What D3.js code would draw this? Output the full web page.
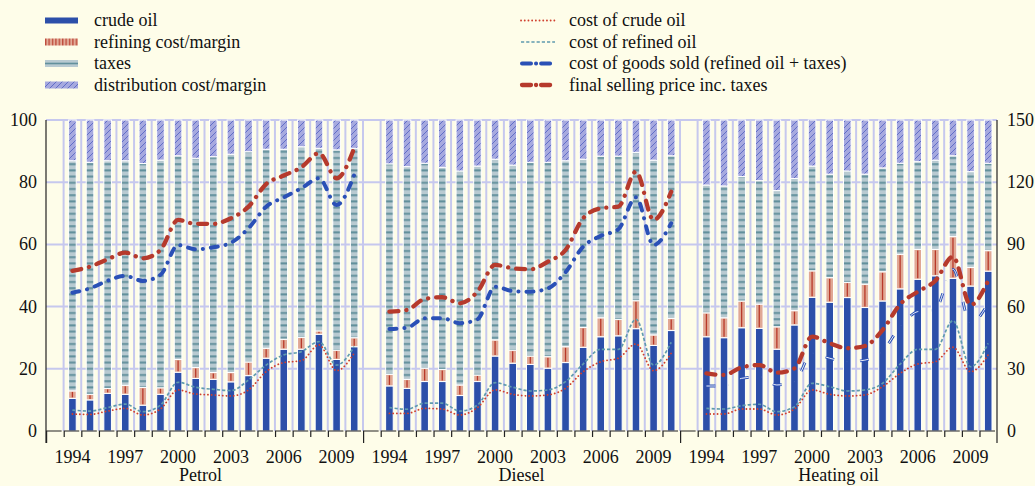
<!DOCTYPE html>
<html><head><meta charset="utf-8">
<script src="https://cdn.jsdelivr.net/npm/d3@7"></script>
<style>
body{margin:0;background:#fefde9;}
svg{display:block;}
text{font-family:"Liberation Serif","Times New Roman","DejaVu Serif",serif;}
</style>
</head><body>
<svg id="c" width="1035" height="486"></svg>
<script>
// ---------------- DATA ----------------
const years = [1994,1995,1996,1997,1998,1999,2000,2001,2002,2003,2004,2005,2006,2007,2008,2009,2010];
const yearLabels = [1994,1997,2000,2003,2006,2009];
const panels = ["Petrol","Diesel","Heating oil"];
const leftTicks = [0,20,40,60,80,100];
const rightTicks = [0,30,60,90,120,150];

// shares (% of final price) — stacked bars, left axis
const petrolCrude    = [10.5,10.0,12.1,11.8,8.3,11.8,18.9,16.9,16.6,15.8,17.8,23.4,26.3,26.3,31.1,23.0,27.1];
const petrolRefining = [2.4,1.8,1.6,2.9,5.7,2.1,4.1,3.5,2.2,3.0,4.4,3.2,3.2,3.8,1.1,3.0,2.9];
const petrolTaxes    = [74.0,74.6,73.2,72.2,72.0,73.2,65.5,67.3,69.4,70.2,67.6,64.0,61.1,61.3,58.7,64.4,60.9];
const petrolDistrib  = [13.1,13.6,13.1,13.1,14.0,12.9,11.5,12.3,11.8,11.0,10.2,9.4,9.4,8.6,9.1,9.6,9.1];

const dieselCrude    = [14.5,13.7,15.9,15.9,11.4,15.9,24.1,21.8,21.4,20.2,22.0,26.9,30.3,30.6,32.9,27.5,32.3];
const dieselRefining = [3.7,2.9,4.3,3.9,3.4,2.1,5.2,4.2,2.7,3.7,5.1,6.4,6.1,5.3,9.0,3.4,3.9];
const dieselTaxes    = [67.7,68.4,65.9,65.0,68.8,67.2,58.1,59.5,62.3,62.5,59.8,54.1,52.0,52.5,47.7,56.2,52.3];
const dieselDistrib  = [14.1,15.0,13.9,15.2,16.4,14.8,12.6,14.5,13.6,13.6,13.1,12.6,11.6,11.6,10.4,12.9,11.5];

const heatCrude      = [30.3,30.0,33.2,33.0,26.3,34.1,43.0,41.4,42.9,39.7,41.8,45.7,48.8,49.9,49.1,46.6,51.4];
const heatRefining   = [7.7,6.4,8.6,7.8,7.2,4.6,8.5,7.9,4.9,7.5,9.4,11.1,9.6,8.5,13.4,6.0,6.6];
const heatTaxes      = [41.1,42.4,40.0,39.7,43.8,42.5,33.7,33.3,35.8,35.4,33.4,29.3,28.2,28.7,26.0,30.8,28.1];
const heatDistrib    = [20.9,21.2,18.2,19.5,22.7,18.8,14.8,17.4,16.4,17.4,15.4,13.9,13.4,12.9,11.5,16.6,13.9];

// prices — lines, right axis
const petrolFinal     = [77.2,79.3,82.8,86.0,83.3,87.3,101.8,99.9,99.9,102.6,108.2,119.1,123.2,127.2,134.0,121.9,136.4];
const petrolCogs      = [66.7,68.8,72.5,74.8,72.4,75.3,89.7,87.6,88.6,90.8,97.8,108.2,112.7,117.1,121.9,109.0,123.5];
const petrolRefined   = [10.1,9.6,11.3,13.0,9.3,12.5,23.5,21.1,20.1,19.5,24.6,31.8,36.7,38.3,43.1,31.8,40.7];
const petrolCrudeCost = [8.2,8.0,9.6,10.9,7.7,10.6,19.8,17.8,17.4,16.9,19.8,28.6,33.0,33.9,41.5,29.1,37.5];

const dieselFinal     = [57.6,58.4,63.7,64.5,61.6,67.2,80.1,78.5,78.0,81.7,87.3,102.6,107.4,108.2,125.1,101.8,115.4];
const dieselCogs      = [49.2,49.8,54.4,54.4,52.0,53.9,69.6,67.5,67.2,68.8,76.6,88.9,94.1,97.3,112.7,89.7,100.2];
const dieselRefined   = [11.3,10.5,13.4,13.4,9.6,12.5,23.3,21.1,19.3,19.8,23.8,32.3,39.4,39.4,53.9,31.8,42.8];
const dieselCrudeCost = [8.5,8.5,10.9,10.6,7.7,11.3,19.8,17.7,16.9,17.4,20.6,28.6,33.4,35.1,42.0,29.1,37.5];

const heatFinal       = [27.8,27.0,30.7,31.8,28.1,30.2,45.5,42.3,39.9,41.0,48.7,61.1,67.2,72.5,84.1,60.8,72.5];
const heatCogs        = [21.7,21.7,25.4,26.2,22.2,23.8,37.5,35.1,33.4,34.2,38.5,50.3,57.6,58.7,78.0,52.0,61.6];
const heatRefined     = [10.9,10.6,12.2,12.9,9.3,11.7,23.0,21.4,19.3,19.8,23.0,32.3,39.4,39.4,53.2,31.0,42.3];
const heatCrudeCost   = [8.2,8.2,10.6,10.6,7.7,10.6,19.8,17.7,16.9,17.4,21.4,27.8,32.3,33.4,40.4,28.6,36.7];

const barSeries = ["crude oil","refining cost/margin","taxes","distribution cost/margin"];
const lineSeries = ["cost of crude oil","cost of refined oil","cost of goods sold (refined oil + taxes)","final selling price inc. taxes"];

const shareData = [
  [petrolCrude, petrolRefining, petrolTaxes, petrolDistrib],
  [dieselCrude, dieselRefining, dieselTaxes, dieselDistrib],
  [heatCrude, heatRefining, heatTaxes, heatDistrib]
];
const priceData = [
  [petrolCrudeCost, petrolRefined, petrolCogs, petrolFinal],
  [dieselCrudeCost, dieselRefined, dieselCogs, dieselFinal],
  [heatCrudeCost, heatRefined, heatCogs, heatFinal]
];

// ---------------- LAYOUT ----------------
const FONT = "'Liberation Serif','Times New Roman','DejaVu Serif',serif";
const L = 46, R = 997, T = 120, B = 431;
const svg = d3.select("#c");
svg.append("rect").attr("width",1035).attr("height",486).attr("fill","#fefde9");

const slotKeys = [];
panels.forEach((p,pi)=>{ slotKeys.push(pi+"-gap"); years.forEach(y=>slotKeys.push(pi+"-"+y)); });
const x = d3.scaleBand().domain(slotKeys).range([L,R]).padding(0);
const sw = x.bandwidth();
const cx = (pi,y)=> x(pi+"-"+y) + sw/2;
const yL = d3.scaleLinear().domain([0,100]).range([B,T]);
const yR = d3.scaleLinear().domain([0,150]).range([B,T]);

// patterns
const defs = svg.append("defs");
const pTax = defs.append("pattern").attr("id","pTax").attr("patternUnits","userSpaceOnUse").attr("width",8).attr("height",6.2);
pTax.append("rect").attr("width",8).attr("height",6.2).attr("fill","#b8cad1");
pTax.append("rect").attr("y",2).attr("width",8).attr("height",2).attr("fill","#62909c");
const pDist = defs.append("pattern").attr("id","pDist").attr("patternUnits","userSpaceOnUse").attr("width",6).attr("height",6);
pDist.append("rect").attr("width",6).attr("height",6).attr("fill","#a6a9df");
pDist.append("path").attr("d","M0,6 L6,0 M-1,1 L1,-1 M5,7 L7,5").attr("stroke","#4f5fc2").attr("stroke-width",0.8);
const pRefLeg = defs.append("pattern").attr("id","pRefLeg").attr("patternUnits","userSpaceOnUse").attr("width",3.4).attr("height",8);
pRefLeg.append("rect").attr("width",3.4).attr("height",8).attr("fill","#e2ab98");
pRefLeg.append("rect").attr("x",1).attr("width",1.1).attr("height",8).attr("fill","#b8392a");

const fills = ["#2c4fa9","#e0a894","url(#pTax)","url(#pDist)"];

// gridlines
const grid = svg.append("g");
grid.selectAll("line.h").data(leftTicks.filter(d=>d>0)).join("line")
  .attr("x1",L).attr("x2",R).attr("y1",d=>yL(d)).attr("y2",d=>yL(d))
  .attr("stroke","#c6c8ee").attr("stroke-width",2);
grid.selectAll("line.v").data(slotKeys.slice(1)).join("line")
  .attr("x1",d=>x(d)).attr("x2",d=>x(d)).attr("y1",T).attr("y2",B)
  .attr("stroke","#c6c8ee").attr("stroke-width",2);

// bars
const bw = 7.6;
const bars = svg.append("g");
shareData.forEach((series,pi)=>{
  years.forEach((yr,i)=>{
    let acc = 0;
    series.forEach((arr,si)=>{
      const v = arr[i];
      const y0 = acc, y1 = (si===series.length-1) ? 100 : acc + v;
      acc += v;
      const xx = cx(pi,yr) - bw/2;
      bars.append("rect").attr("x",xx).attr("width",bw)
        .attr("y",yL(y1)).attr("height",Math.max(0,yL(y0)-yL(y1)))
        .attr("fill",fills[si]).attr("stroke","#ffffff").attr("stroke-width",1);
      if(si===1){
        bars.append("line").attr("x1",cx(pi,yr)).attr("x2",cx(pi,yr))
          .attr("y1",yL(y1)+1).attr("y2",yL(y0)-1)
          .attr("stroke","#b8392a").attr("stroke-width",1.3);
      }
    });
  });
});

// lines
const lineStyles = [
  {color:"#d0402f", width:1.8, dash:"0.1,3.6", cap:"round"},
  {color:"#5f9aae", width:1.7, dash:"3.2,2", cap:"butt"},
  {color:"#2a50b6", width:4, dash:"7,8,0.1,8", cap:"round"},
  {color:"#b63a2c", width:4.3, dash:"9,8,0.1,8", cap:"round"}
];
const lines = svg.append("g");
priceData.forEach((series,pi)=>{
  series.forEach((arr,si)=>{
    const gen = d3.line().x((d,i)=>cx(pi,years[i])).y(d=>yR(d)).curve(d3.curveMonotoneX);
    const st = lineStyles[si];
    if(pi===2 && si===2){
      lines.append("path").attr("d",gen(arr)).attr("fill","none")
        .attr("stroke",st.color).attr("stroke-width",2.8).attr("stroke-dasharray","9,13,0.1,13").attr("stroke-linecap","butt");
      lines.append("path").attr("d",gen(arr)).attr("fill","none")
        .attr("stroke","#ffffff").attr("stroke-width",0.9).attr("stroke-dasharray","9,13,0.1,13").attr("stroke-linecap","butt");
    } else {
      lines.append("path").attr("d",gen(arr)).attr("fill","none")
        .attr("stroke",st.color).attr("stroke-width",st.width)
        .attr("stroke-dasharray",st.dash).attr("stroke-linecap",st.cap);
    }
  });
});

// axes
const ax = svg.append("g").attr("stroke","#222").attr("stroke-width",1.2).attr("fill","none");
ax.append("line").attr("x1",L).attr("x2",L).attr("y1",T).attr("y2",443);
ax.append("line").attr("x1",R).attr("x2",R).attr("y1",T).attr("y2",443);
slotKeys.forEach((k,i)=>{
  const x0 = x(k);
  ax.append("path").attr("d",`M${x0+0.6},${i%18===0?443:437} V${B} H${x0+sw-2}`);
});

const txt = svg.append("g").attr("fill","#111").attr("font-size",18).attr("font-family",FONT);
txt.selectAll("text.l").data(leftTicks).join("text")
  .attr("x",37).attr("y",d=>yL(d)+6).attr("text-anchor","end").text(d=>d);
txt.selectAll("text.r").data(rightTicks).join("text")
  .attr("x",1007).attr("y",d=>yR(d)+6).attr("text-anchor","start").text(d=>d);
panels.forEach((p,pi)=>{
  yearLabels.forEach(yr=>{
    txt.append("text").attr("x",cx(pi,yr)).attr("y",463).attr("text-anchor","middle").text(yr);
  });
  const a = x(pi+"-gap"), b = x(pi+"-"+years[years.length-1]) + sw;
  txt.append("text").attr("x",(a+b)/2 - (pi===0?4:0)).attr("y",481).attr("text-anchor","middle").text(p);
});

// legend
const rowsY = [20.5, 42, 63.5, 85];
const leg = svg.append("g").attr("font-size",18).attr("fill","#111").attr("font-family",FONT);
barSeries.forEach((s,i)=>{
  const y = rowsY[i];
  if(i===0) leg.append("rect").attr("x",45).attr("y",y-3).attr("width",33).attr("height",6).attr("fill",fills[0]);
  else if(i===1) leg.append("rect").attr("x",45).attr("y",y-3.5).attr("width",33).attr("height",7).attr("fill","url(#pRefLeg)");
  else if(i===2){
    leg.append("rect").attr("x",45).attr("y",y-3.5).attr("width",33).attr("height",7).attr("fill","#b8cad1");
    leg.append("rect").attr("x",45).attr("y",y-0.8).attr("width",33).attr("height",1.6).attr("fill","#62909c");
  } else leg.append("rect").attr("x",45).attr("y",y-3.5).attr("width",33).attr("height",7).attr("fill","url(#pDist)");
  leg.append("text").attr("x",94).attr("y",y+5.5).text(s);
});
lineSeries.forEach((s,i)=>{
  const y = rowsY[i];
  const st = lineStyles[i];
  leg.append("line").attr("x1",i>=2?522:521).attr("x2",i>=2?553:555).attr("y1",y).attr("y2",y)
    .attr("stroke",st.color).attr("stroke-width",st.width).attr("stroke-dasharray",i>=2?"9,5,0.1,5":st.dash).attr("stroke-linecap",st.cap);
  leg.append("text").attr("x",569).attr("y",y+5.5).text(s);
});
</script>
</body></html>
